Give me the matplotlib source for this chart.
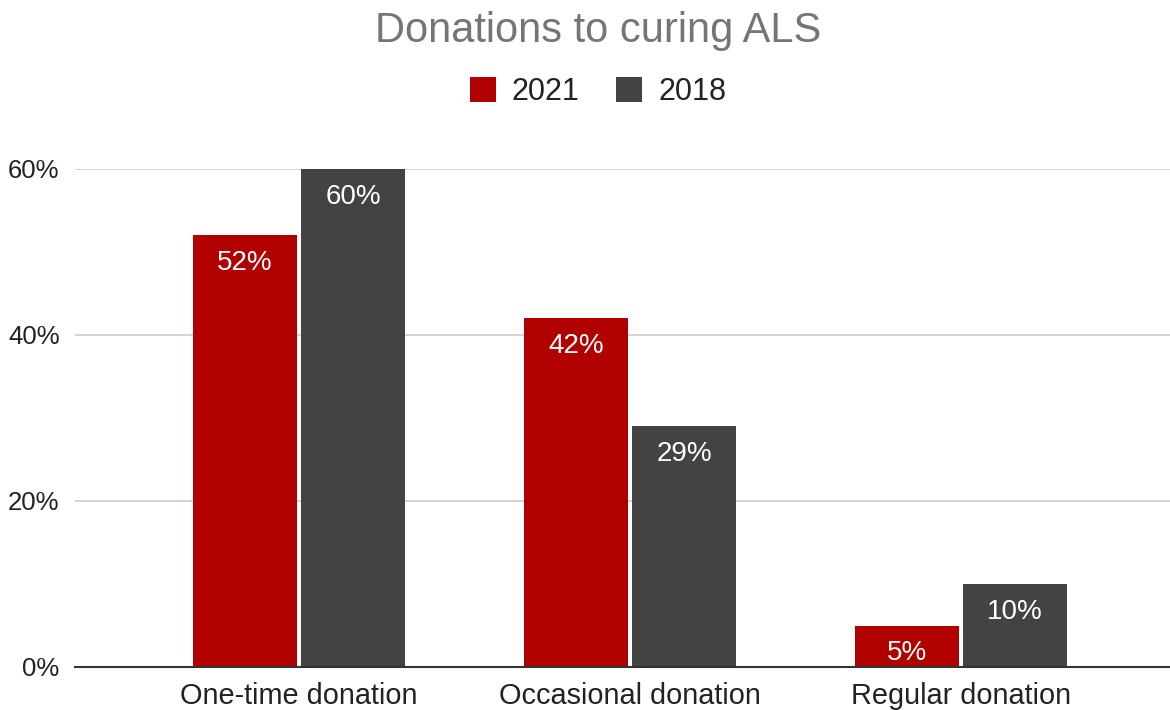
import matplotlib
matplotlib.use("Agg")
import matplotlib.pyplot as plt
import numpy as np

categories = ["One-time donation", "Occasional donation", "Regular donation"]
series_names = ["2021", "2018"]
values_2021 = [52, 42, 5]
values_2018 = [60, 29, 10]
yticks = [0, 20, 40, 60]
ytick_labels = ["0%", "20%", "40%", "60%"]

colors = ["#b00000", "#434343"]

plt.rcParams['font.family'] = ['Liberation Sans', 'DejaVu Sans']

W, H = 1170, 710
fig = plt.figure(figsize=(W / 100, H / 100), dpi=100)
ax = fig.add_axes([75 / W, (H - 667) / H, (1170 - 75) / W, (667 - 169) / H])

x = np.arange(len(categories))
bw = 0.314
off = 0.163
for vals, name, col, sgn in [(values_2021, series_names[0], colors[0], -1),
                             (values_2018, series_names[1], colors[1], 1)]:
    bars = ax.bar(x + sgn * off, vals, width=bw, color=col, label=name, zorder=3)
    for b, v in zip(bars, vals):
        ax.annotate(f"{v}%", (b.get_x() + b.get_width() / 2, v),
                    xytext=(0, -28), textcoords="offset pixels",
                    ha="center", va="center", color="white", fontsize=20, zorder=4)

ax.set_xlim(-0.677, 2.631)
ax.set_ylim(0, 60)
ax.set_yticks(yticks)
ax.set_yticklabels(ytick_labels)
ax.set_xticks(x)
ax.set_xticklabels(categories)
ax.grid(axis="y", color="#cccccc", linewidth=1.2, zorder=0)
for s in ["top", "right", "left"]:
    ax.spines[s].set_visible(False)
ax.spines["bottom"].set_color("#333333")
ax.spines["bottom"].set_linewidth(1.5)
ax.spines["bottom"].set_zorder(5)
ax.tick_params(axis="both", length=0)
ax.tick_params(axis="y", labelsize=18.5, labelcolor="#222222", pad=11)
ax.tick_params(axis="x", labelsize=20.8, labelcolor="#222222", pad=11)
for lbl in ax.get_yticklabels():
    lbl.set_horizontalalignment("right")

fig.text(598 / W, 1 - 31 / H, "Donations to curing ALS", ha="center", va="center",
         fontsize=30, color="#757575")
leg = fig.legend(loc="center", bbox_to_anchor=(598 / W, 1 - 92 / H), ncol=2, frameon=False,
                 fontsize=22, handlelength=0.85, handleheight=0.85, columnspacing=1.2,
                 handletextpad=0.52, labelcolor="#222222")

fig.savefig("out.png", dpi=100)
